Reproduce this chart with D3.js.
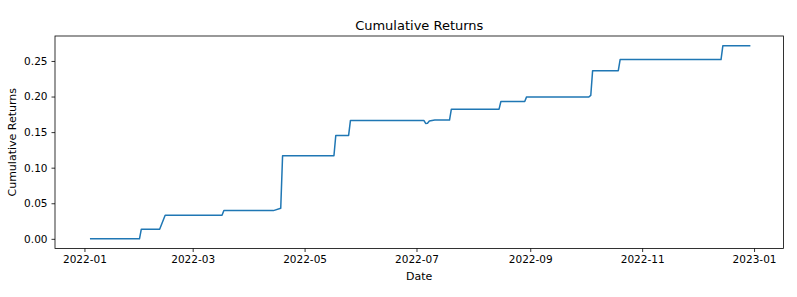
<!DOCTYPE html>
<html>
<head>
<meta charset="utf-8">
<script src="https://cdn.jsdelivr.net/npm/d3@7"></script>
<style>
    body { margin: 0; background: #fff; }
    svg { display: block; font-family: "DejaVu Sans", sans-serif; }
</style>
</head>
<body>
<div id="chart"></div>
<script>
    // Vertices of the cumulative return line (business days where it moves)
    const dates = [
        "2022-01-03", "2022-01-04", "2022-01-31", "2022-02-01", "2022-02-11", "2022-02-14",
        "2022-03-17", "2022-03-18", "2022-04-14", "2022-04-18", "2022-04-19",
        "2022-05-17", "2022-05-18", "2022-05-25", "2022-05-26",
        "2022-07-05", "2022-07-06", "2022-07-07", "2022-07-08", "2022-07-11",
        "2022-07-19", "2022-07-20", "2022-08-15", "2022-08-16", "2022-08-29", "2022-08-30",
        "2022-10-03", "2022-10-04", "2022-10-05", "2022-10-19", "2022-10-20",
        "2022-12-14", "2022-12-15", "2022-12-30"
    ];
    const returns = [
        null, 0.0, 0.0, 0.0136, 0.0136, 0.0332,
        0.0332, 0.0397, 0.0397, 0.0430, 0.1167,
        0.1167, 0.1453, 0.1453, 0.1664,
        0.1664, 0.1622, 0.1625, 0.1655, 0.1669,
        0.1669, 0.1822, 0.1822, 0.1930, 0.1930, 0.1995,
        0.1995, 0.2015, 0.2364, 0.2364, 0.2519,
        0.2519, 0.2715, 0.2715
    ];
    const yTicks = [0, 0.05, 0.10, 0.15, 0.20, 0.25];
    const xTicks = ["2022-01-01", "2022-03-01", "2022-05-01", "2022-07-01", "2022-09-01", "2022-11-01", "2023-01-01"];

    const parse = d3.timeParse("%Y-%m-%d");
    const data = dates.map((d, i) => ({ date: parse(d), value: returns[i] }));

    const margin = { top: 36, right: 13.5, bottom: 48.5, left: 55 };
    const W = 797, H = 297;
    const width = W - margin.left - margin.right;
    const height = H - margin.top - margin.bottom;

    const svg = d3.select("#chart").append("svg")
        .attr("width", W)
        .attr("height", H)
        .append("g")
        .attr("transform", "translate(" + margin.left + "," + margin.top + ")");

    // matplotlib style 5% margins
    const xExt = d3.extent(data, d => d.date);
    const xPad = (xExt[1] - xExt[0]) * 0.05;
    const x = d3.scaleTime()
        .domain([new Date(+xExt[0] - xPad), new Date(+xExt[1] + xPad)])
        .range([0, width]);

    const defined = data.filter(d => d.value !== null);
    const yExt = d3.extent(defined, d => d.value);
    const yPad = (yExt[1] - yExt[0]) * 0.05;
    const y = d3.scaleLinear()
        .domain([yExt[0] - yPad, yExt[1] + yPad])
        .range([height, 0]);

    const xAxis = d3.axisBottom(x)
        .tickValues(xTicks.map(parse))
        .tickFormat(d3.timeFormat("%Y-%m"))
        .tickSize(3.5)
        .tickPadding(4);

    const yAxis = d3.axisLeft(y)
        .tickValues(yTicks)
        .tickFormat(d3.format(".2f"))
        .tickSize(3.5)
        .tickPadding(4);

    svg.append("g")
        .attr("class", "x axis")
        .attr("transform", "translate(0," + height + ")")
        .call(xAxis);

    svg.append("g")
        .attr("class", "y axis")
        .call(yAxis);

    svg.selectAll(".axis .domain").remove();
    svg.selectAll(".axis text")
        .style("font-size", "10.5px")
        .style("font-family", "DejaVu Sans")
        .attr("fill", "#000");
    svg.selectAll(".axis line").attr("stroke", "#000").attr("stroke-width", 0.8);

    // the line
    const line = d3.line()
        .defined(d => d.value !== null)
        .x(d => x(d.date))
        .y(d => y(d.value));

    svg.append("path")
        .datum(data)
        .attr("fill", "none")
        .attr("stroke", "#1f77b4")
        .attr("stroke-width", 1.5)
        .attr("stroke-linejoin", "round")
        .attr("d", line);

    // frame
    svg.append("rect")
        .attr("x", 0)
        .attr("y", 0)
        .attr("width", width)
        .attr("height", height)
        .attr("fill", "none")
        .attr("stroke", "#000")
        .attr("stroke-width", 0.8);

    // title
    svg.append("text")
        .attr("x", width / 2)
        .attr("y", -6.5)
        .attr("text-anchor", "middle")
        .style("font-size", "13px")
        .text("Cumulative Returns");

    // x-axis title
    svg.append("text")
        .attr("x", width / 2)
        .attr("y", height + 31.5)
        .attr("text-anchor", "middle")
        .style("font-size", "11px")
        .text("Date");

    // y-axis title
    svg.append("text")
        .attr("transform", "rotate(-90)")
        .attr("x", -height / 2)
        .attr("y", -39)
        .attr("text-anchor", "middle")
        .style("font-size", "11px")
        .text("Cumulative Returns");
</script>
</body>
</html>
